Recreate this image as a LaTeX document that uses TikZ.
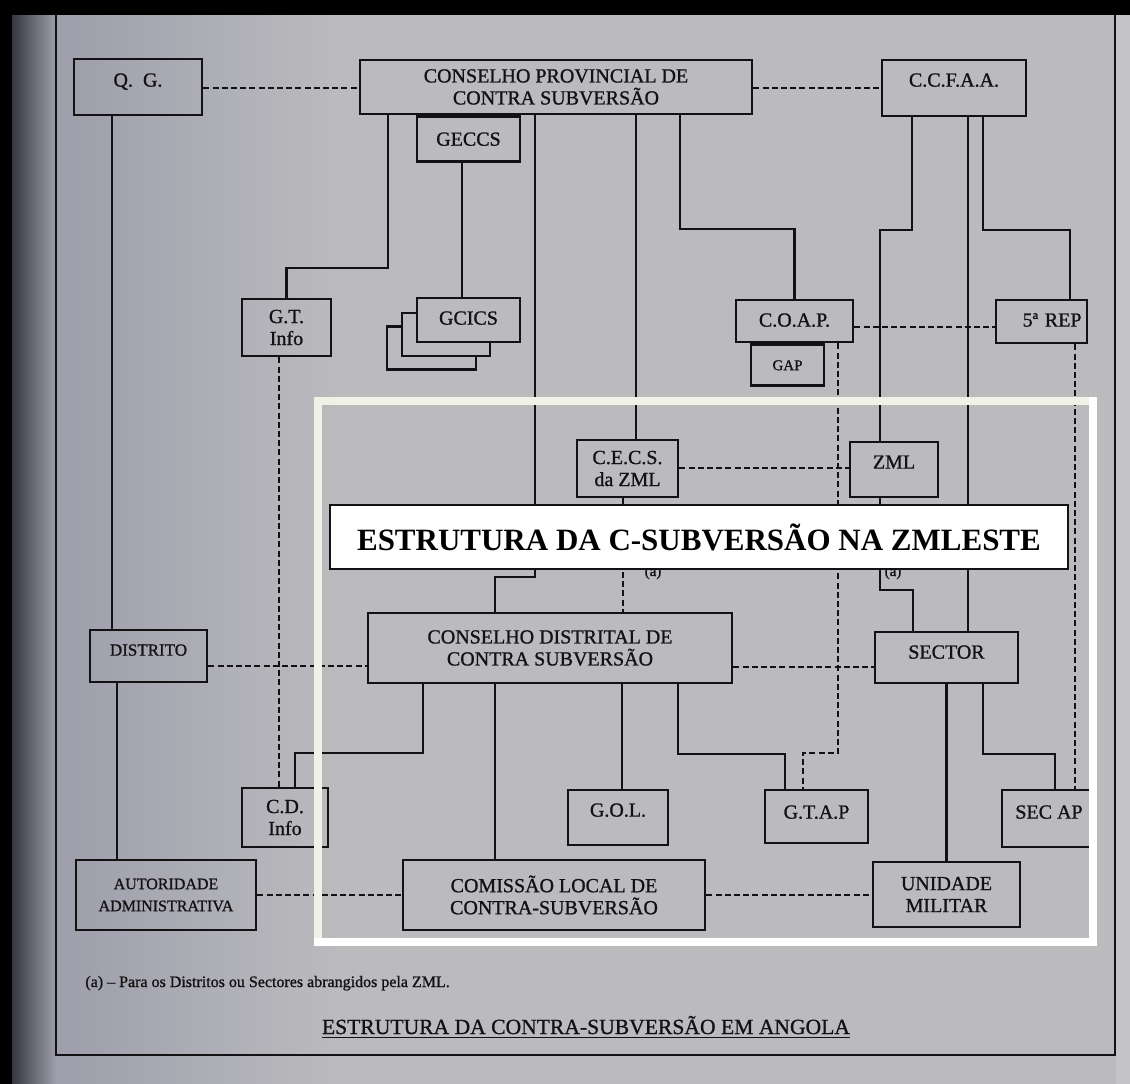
\documentclass[tikz,border=0pt]{standalone}
\usepackage{fontspec}
\setmainfont{Liberation Serif}
\newfontfamily\scanfont{Liberation Serif}[FakeBold=1.0]
\usepackage{tikz}
\usetikzlibrary{positioning}

\definecolor{ink}{RGB}{18,18,20}
\definecolor{pagegray}{RGB}{187,187,190}
\definecolor{pagelight}{RGB}{196,196,199}
\definecolor{pageblue}{RGB}{158,158,172}
\definecolor{edgedark}{RGB}{55,55,66}
\definecolor{framecream}{RGB}{242,241,232}

\begin{document}
\begin{tikzpicture}[%
    x=0.5pt, y=-0.5pt,
    orgnode/.style={rectangle, align=center, draw=ink, line width=1.3pt, inner sep=0pt, text=ink, font=\scanfont\fontsize{10}{11}\selectfont},
    onenode/.style={orgnode, text height=7pt, text depth=#1},
    onenode/.default=0.4pt,
    stacknode/.style={onenode=2.4pt, fill=pagegray, minimum width=44.5pt, minimum height=21.5pt},
    bannernode/.style={rectangle, align=center, draw=ink, line width=0.8pt, fill=white, inner sep=0pt, text=black, font=\bfseries\fontsize{15.5}{18}\selectfont},
    note/.style={text=ink, inner sep=0pt, font=\scanfont},
    link/.style={draw=ink, line width=1.2pt},
    thinlink/.style={draw=ink, line width=0.8pt},
    dlink/.style={draw=ink, line width=1.1pt, dash pattern=on 3pt off 1.6pt},
]
% page
\useasboundingbox (0,0) rectangle (1130,1083);
\fill[black] (0,-10) rectangle (1140,1100);
\shade[left color=edgedark, right color=pageblue] (12,15) rectangle (56,1100);
\shade[left color=pageblue, right color=pagegray] (56,15) rectangle (340,1100);
\fill[pagegray] (340,15) rectangle (1116,1100);
\fill[pagelight] (1116,15) rectangle (1140,1100);
\draw[ink, line width=1.2pt] (56,15) -- (56,1055) -- (1115,1055) -- (1115,15);

% provincial level
\node[onenode=7.4pt, minimum width=64pt, minimum height=28pt] (qg) at (138,87) {Q.~~G.};
\node[orgnode, minimum width=196pt, minimum height=27pt] (cpcs) at (556,87) {CONSELHO PROVINCIAL DE\\CONTRA SUBVERSÃO};
\node[onenode=8.4pt, minimum width=72pt, minimum height=28pt] (ccfaa) at (954,88) {C.C.F.A.A.};
\node[onenode, minimum width=51.5pt, minimum height=22.5pt] (geccs) [below right=0pt and 28.5pt of cpcs.south west] {GECCS};

% support groups
\node[orgnode, minimum width=44.5pt, minimum height=28.5pt] (gtinfo) at (286.5,327.5) {G.T.\\Info};
\node[stacknode] (gcicsc) at (431.5,348) {};
\node[stacknode, minimum width=44pt] (gcicsb) at (446,334.5) {};
\node[stacknode, minimum width=51.5pt, minimum height=22pt] (gcics) at (468.5,320) {GCICS};
\node[onenode=1.4pt, minimum width=58.5pt, minimum height=21pt] (coap) at (794.5,321) {C.O.A.P.};
\node[onenode, font=\scanfont\fontsize{7.5}{8}\selectfont, text height=5.5pt, minimum width=36.5pt, minimum height=20.5pt] (gap) [below right=0pt and 7.5pt of coap.south west] {GAP};
\node[onenode=1.9pt, text width=40pt, align=right, minimum width=45.5pt, minimum height=21.5pt] (rep) at (1041.5,321.5) {5ª REP};

% zone level
\node[orgnode, minimum width=50.5pt, minimum height=28.5pt] (cecs) at (627.5,468.5) {C.E.C.S.\\da ZML};
\node[onenode=7.9pt, minimum width=44pt, minimum height=27.5pt] (zml) at (894,469.5) {ZML};

% district level
\node[onenode=6.4pt, font=\scanfont\fontsize{8.5}{10}\selectfont, text height=6pt, minimum width=58.5pt, minimum height=26pt] (distrito) at (148.5,656) {DISTRITO};
\node[orgnode, minimum width=182pt, minimum height=35pt] (cdcs) at (550,648) {CONSELHO DISTRITAL DE\\CONTRA SUBVERSÃO};
\node[onenode=5.9pt, minimum width=71.5pt, minimum height=25.5pt] (sector) at (946.5,657.5) {SECTOR};

% local level
\node[orgnode, minimum width=43pt, minimum height=29.5pt] (cdinfo) at (285,817.5) {C.D.\\Info};
\node[onenode=7.9pt, minimum width=50pt, minimum height=27.5pt] (gol) at (618,817.5) {G.O.L.};
\node[onenode=4.9pt, minimum width=51.5pt, minimum height=26.5pt] (gtap) at (816.5,816.5) {G.T.A.P};
\node[onenode=6.9pt, minimum width=47pt, minimum height=28.5pt] (secap) at (1049,818.5) {SEC AP};
\node[orgnode, font=\scanfont\fontsize{8}{11}\selectfont, minimum width=90pt, minimum height=35pt] (autoridade) at (166,895) {AUTORIDADE\\ADMINISTRATIVA};
\node[orgnode, minimum width=151pt, minimum height=35pt] (clcs) at (554,895) {COMISSÃO LOCAL DE\\CONTRA-SUBVERSÃO};
\node[orgnode, minimum width=73.5pt, minimum height=32.5pt] (unidade) at (946.5,894.5) {UNIDADE\\MILITAR};

% command lines
\draw[link] (qg.south -| 112,0) -- (distrito.north -| 112,0);
\draw[link] (distrito.south -| 117,0) -- (autoridade.north -| 117,0);
\draw[link] (cpcs.south -| 388,0) -- (388,268) -| (gtinfo.north);
\draw[thinlink] (geccs.south -| 462,0) -- (gcics.north -| 462,0);
\draw[link] (cpcs.south -| 535,0) -- (535,577) -| (cdcs.north -| 495,0);
\draw[link] (cpcs.south -| 636,0) -- (cecs.north -| 636,0);
\draw[link] (cpcs.south -| 680,0) -- (680,229) -| (coap.north);
\draw[link] (ccfaa.south -| 912,0) -- (912,230) -| (zml.north -| 880,0);
\draw[link] (zml.south -| 880,0) -- (880,590) -| (sector.north -| 913,0);
\draw[link] (ccfaa.south -| 968,0) -- (sector.north -| 968,0);
\draw[link] (ccfaa.south -| 983,0) -- (983,230) -| (rep.north -| 1070,0);
\draw[link] (cdcs.south -| 423,0) -- (423,753) -| (cdinfo.north -| 295,0);
\draw[link] (cdcs.south -| 495,0) -- (clcs.north -| 495,0);
\draw[link] (cdcs.south -| 622,0) -- (gol.north -| 622,0);
\draw[link] (cdcs.south -| 678,0) -- (678,754) -| (gtap.north -| 785,0);
\draw[link] (sector.south) -- (unidade.north);
\draw[link] (sector.south -| 983,0) -- (983,754) -| (secap.north -| 1055,0);

% liaison lines
\draw[dlink] (qg.east |- 0,88) -- (cpcs.west |- 0,88);
\draw[dlink] (cpcs.east |- 0,88) -- (ccfaa.west |- 0,88);
\draw[dlink] (coap.east |- 0,327) -- (rep.west |- 0,327);
\draw[dlink] (cecs.east |- 0,468) -- (zml.west |- 0,468);
\draw[dlink] (gtinfo.south -| 279,0) -- (cdinfo.north -| 279,0);
\draw[dlink] (coap.south -| 838,0) -- (838,753) -| (gtap.north -| 803,0);
\draw[dlink] (rep.south -| 1075,0) -- (secap.north -| 1075,0);
\draw[dlink] (cecs.south -| 623,0) -- (cdcs.north -| 623,0);
\draw[dlink] (distrito.east |- 0,666) -- (cdcs.west |- 0,666);
\draw[dlink] (cdcs.east |- 0,667) -- (sector.west |- 0,667);
\draw[dlink] (autoridade.east |- 0,895) -- (clcs.west |- 0,895);
\draw[dlink] (clcs.east |- 0,895) -- (unidade.west |- 0,895);

% notes under the banner
\node[note, font=\scanfont\fontsize{7.5}{8}\selectfont, anchor=base] (nota1) at (653,576) {(a)};
\node[note, font=\scanfont\fontsize{7.5}{8}\selectfont, anchor=base] (nota2) at (893,576) {(a)};

% banner and highlight
\node[bannernode, minimum width=369pt, minimum height=32pt] (banner) at (699,537) {ESTRUTURA DA C-SUBVERSÃO NA ZMLESTE};
\draw[framecream, line width=4pt, line cap=rect] (318,942) -- (318,401) -- (1093,401);
\draw[white, line width=4pt, line cap=rect] (1093,401) -- (1093,942) -- (318,942);

% footnote and caption
\node[note, font=\scanfont\fontsize{8}{9}\selectfont, anchor=base west] (footnote) at (85,987) {(a) – Para os Distritos ou Sectores abrangidos pela ZML.};
\node[note, font=\scanfont\fontsize{10.8}{13}\selectfont, anchor=base] (caption) at (586,1034) {\underline{ESTRUTURA DA CONTRA-SUBVERSÃO EM ANGOLA}};
\end{tikzpicture}
\end{document}
